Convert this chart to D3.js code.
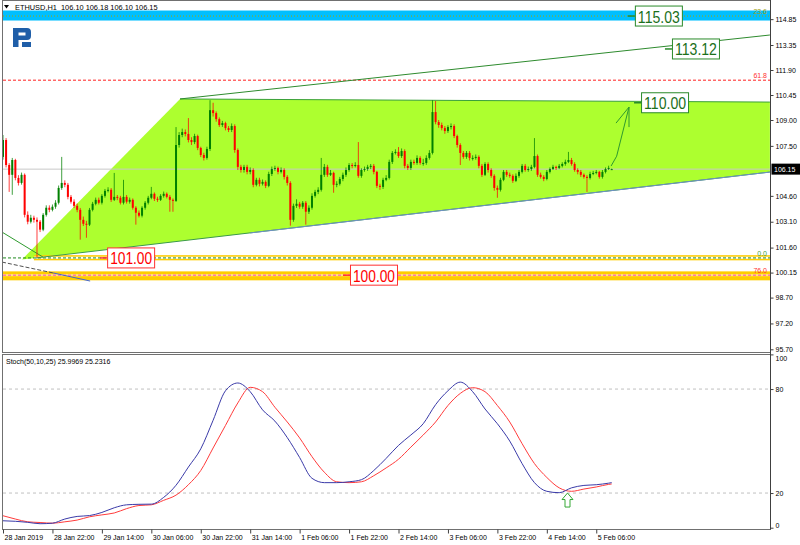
<!DOCTYPE html>
<html><head><meta charset="utf-8">
<script src="https://cdn.jsdelivr.net/npm/d3@7"></script>
<style>html,body{margin:0;padding:0;background:#fff;}svg{display:block;font-family:"Liberation Sans",Arial,sans-serif;}</style>
</head><body><svg id="c" width="800" height="545"></svg>
<script>
// ---------------- DATA ----------------
const symbolTitle = "ETHUSD,H1";
const lastOHLC = [106.10, 106.18, 106.10, 106.15];
const opens = [106.86,107.84,106.39,105.82,106.68,105.64,105.35,105.82,103.50,103.10,
103.33,103.21,103.10,102.64,103.50,103.91,103.79,103.97,104.20,105.06,
105.35,105.24,104.54,104.26,104.02,103.79,103.21,102.98,102.93,103.79,
104.14,104.37,104.20,104.60,104.89,104.95,104.37,104.54,104.49,104.20,
104.54,104.26,104.37,103.91,103.62,103.45,103.91,104.20,104.49,104.72,
104.43,104.37,104.60,104.72,104.54,104.37,104.31,107.55,108.13,108.30,
108.19,107.84,107.72,108.07,107.38,106.97,106.80,107.32,109.57,109.40,
109.05,108.71,108.82,108.53,108.42,108.65,107.26,106.28,106.10,106.28,
105.99,106.10,105.24,105.53,105.30,105.41,105.18,105.87,106.16,106.22,
105.99,106.10,105.70,105.35,103.21,104.02,104.14,103.97,104.20,103.68,
103.91,104.60,104.83,104.95,105.82,106.28,105.82,105.93,105.24,105.30,
105.58,105.82,106.10,106.39,106.34,106.39,105.76,106.10,106.16,106.28,
106.34,105.99,105.18,105.12,105.53,105.64,106.57,107.09,107.15,106.91,
107.20,106.34,106.22,106.57,106.51,106.80,106.51,106.51,106.80,107.09,
109.46,108.88,108.71,108.53,108.36,108.59,108.65,108.07,107.55,107.09,
106.86,107.09,106.80,106.80,106.86,106.34,105.82,106.45,106.10,105.76,
105.06,104.95,105.53,105.99,105.82,105.76,105.47,105.76,105.99,106.34,
106.10,106.16,106.28,106.91,105.82,105.70,105.58,105.99,106.16,106.28,
106.22,106.34,106.45,106.57,106.68,106.45,106.10,105.99,105.82,105.70,
105.64,105.87,105.93,105.99,105.70,105.99,106.16,106.10];
const highs = [108.13,107.95,106.50,106.80,106.75,105.80,105.95,105.90,103.70,103.50,
103.45,103.35,103.20,103.60,104.05,104.05,104.10,104.35,105.20,106.86,
105.50,105.35,104.65,104.40,104.15,103.90,103.40,103.15,103.90,104.25,
104.50,104.50,104.70,105.00,105.10,105.05,105.93,104.65,104.60,105.53,
104.65,104.50,104.45,104.00,103.75,104.00,104.30,104.60,105.12,104.80,
104.55,104.70,104.85,104.80,104.65,104.45,108.59,108.30,108.50,108.45,
109.11,108.00,108.20,108.15,107.45,107.10,107.45,110.15,110.00,109.50,
109.15,108.95,108.90,108.65,108.80,108.75,107.35,106.40,106.40,106.40,
106.25,106.20,105.65,105.65,105.55,105.50,106.00,106.30,106.35,106.30,
106.25,106.20,105.80,105.45,104.15,104.40,104.25,104.30,104.30,104.05,
104.75,104.95,105.10,106.80,106.45,106.40,106.10,106.00,105.45,105.70,
105.95,106.25,106.50,106.50,106.55,107.72,106.20,106.30,106.40,106.45,
106.45,106.05,105.30,105.65,105.80,106.70,107.20,107.30,107.43,107.35,
107.30,106.45,106.70,106.70,106.95,106.90,106.75,106.95,107.25,110.15,
110.10,109.00,108.85,108.65,108.70,108.80,108.75,108.15,107.65,107.20,
107.20,107.20,106.95,107.00,106.95,106.45,106.55,106.55,106.20,105.85,
105.20,105.65,106.10,106.10,105.95,105.85,105.90,106.10,106.45,106.45,
106.30,106.40,107.95,107.00,105.95,105.80,106.10,106.25,106.40,106.35,
106.45,106.55,106.70,107.15,106.80,106.55,106.20,106.10,105.90,105.80,
106.00,106.05,106.10,106.05,106.10,106.25,106.35,106.18];
const lows = [106.70,106.25,104.83,104.66,105.50,105.20,105.25,103.35,102.95,103.00,
103.05,101.02,102.50,102.55,103.40,103.65,103.70,103.85,104.10,104.95,
105.10,104.40,104.15,103.90,103.65,102.06,102.85,102.17,102.85,103.70,
104.05,104.10,104.10,104.50,104.80,104.25,104.30,104.35,104.10,104.10,
104.15,104.15,103.80,102.93,103.35,103.35,103.80,104.10,104.40,104.30,
104.25,104.30,104.50,104.45,103.68,103.68,104.25,107.40,108.00,108.05,
107.70,107.55,107.60,107.25,106.85,106.65,106.70,107.20,109.20,108.90,
108.60,108.60,108.40,108.30,108.30,107.10,106.10,105.95,105.95,105.85,
105.85,105.10,105.15,105.15,105.20,105.05,105.10,105.75,106.05,105.85,
105.90,105.55,105.20,102.87,103.10,103.90,103.85,103.85,102.93,103.55,
103.80,104.50,104.70,104.85,105.70,105.70,105.75,104.78,105.10,105.20,
105.45,105.70,106.00,106.20,106.25,105.65,105.65,106.00,106.05,106.15,
105.85,105.05,104.95,105.00,105.45,105.55,106.45,107.00,106.80,106.80,
106.20,106.10,106.10,106.40,106.40,106.40,106.35,106.40,106.70,107.00,
108.75,108.55,108.40,108.20,108.25,108.45,107.95,107.40,106.39,106.75,
106.75,106.65,106.65,106.70,106.20,105.70,105.75,105.95,105.65,104.90,
104.49,104.85,105.45,105.70,105.65,105.35,105.40,105.65,105.90,106.00,
106.00,106.05,106.20,105.70,105.60,105.45,105.50,105.90,106.10,106.10,
106.15,106.25,106.35,106.50,106.35,106.00,105.85,105.70,105.60,104.83,
105.55,105.80,105.85,105.60,105.60,105.90,106.10,106.10];
const closes = [107.84,106.39,105.82,106.68,105.64,105.35,105.82,103.50,103.10,103.33,
103.21,103.10,102.64,103.50,103.91,103.79,103.97,104.20,105.06,105.35,
105.24,104.54,104.26,104.02,103.79,103.21,102.98,102.93,103.79,104.14,
104.37,104.20,104.60,104.89,104.95,104.37,104.54,104.49,104.20,104.54,
104.26,104.37,103.91,103.62,103.45,103.91,104.20,104.49,104.72,104.43,
104.37,104.60,104.72,104.54,104.37,104.31,107.55,108.13,108.30,108.19,
107.84,107.72,108.07,107.38,106.97,106.80,107.32,109.57,109.40,109.05,
108.71,108.82,108.53,108.42,108.65,107.26,106.28,106.10,106.28,105.99,
106.10,105.24,105.53,105.30,105.41,105.18,105.87,106.16,106.22,105.99,
106.10,105.70,105.35,103.21,104.02,104.14,103.97,104.20,103.68,103.91,
104.60,104.83,104.95,105.82,106.28,105.82,105.93,105.24,105.30,105.58,
105.82,106.10,106.39,106.34,106.39,105.76,106.10,106.16,106.28,106.34,
105.99,105.18,105.12,105.53,105.64,106.57,107.09,107.15,106.91,107.20,
106.34,106.22,106.57,106.51,106.80,106.51,106.51,106.80,107.09,109.46,
108.88,108.71,108.53,108.36,108.59,108.65,108.07,107.55,107.09,106.86,
107.09,106.80,106.80,106.86,106.34,105.82,106.45,106.10,105.76,105.06,
104.95,105.53,105.99,105.82,105.76,105.47,105.76,105.99,106.34,106.10,
106.16,106.28,106.91,105.82,105.70,105.58,105.99,106.16,106.28,106.22,
106.34,106.45,106.57,106.68,106.45,106.10,105.99,105.82,105.70,105.64,
105.87,105.93,105.99,105.70,105.99,106.16,106.22,106.15];

const timeLabels = ["28 Jan 2019","28 Jan 22:00","29 Jan 14:00","30 Jan 06:00","30 Jan 22:00","31 Jan 14:00","1 Feb 06:00","1 Feb 22:00","2 Feb 14:00","3 Feb 06:00","3 Feb 22:00","4 Feb 14:00","5 Feb 06:00"];
const timeLabelBars = [0,16,32,48,64,80,96,112,128,144,160,176,192];
const priceTicks = [114.85,113.35,111.90,110.45,109.00,107.50,104.60,103.10,101.60,100.15,98.70,97.20,95.70];

const stochTitle = "Stoch(50,10,25) 25.9969 25.2316";
const stochBars = [0,4,8,12,16,20,24,28,32,36,40,44,48,52,56,60,64,68,72,76,80,84,88,92,96,100,104,108,112,116,120,124,128,132,136,140,144,148,152,156,160,164,168,172,176,180,184,188,192,196,197];
const stochMain = [4.0,3.7,3.1,2.3,2.6,5.0,6.5,7.0,8.8,11.5,13.2,13.5,13.6,17.5,24.5,35.0,45.5,62.0,79.0,83.5,78.5,68.0,61.5,52.0,40.5,28.5,26.0,26.0,26.5,27.7,33.0,40.0,47.5,53.5,60.0,71.0,79.0,84.0,78.5,68.5,60.0,50.0,37.0,26.0,21.0,20.2,23.0,24.4,24.8,25.7,26.0];
const stochSignal = [6.9,5.0,3.4,3.0,2.6,3.4,4.4,6.3,7.4,8.5,11.0,12.8,13.2,15.8,18.8,24.8,33.0,46.0,59.0,72.0,81.0,78.5,69.5,61.0,51.8,41.0,32.0,26.5,26.0,26.5,30.0,34.5,39.5,46.5,53.5,61.0,70.5,77.5,80.8,78.5,70.5,61.0,48.5,37.0,29.0,23.0,21.0,22.3,23.5,25.0,25.23];
const stochTicks = [100,80,20,0];
const stochLevels = [80,20];

const fibPrices = [115.03,111.31,101.00,100.00];
const fibNames = ["23.6","61.8","0.0","76.0"];
const targetPrices = [115.03,113.12,110.00];
const supportPrices = [101.00,100.00];
const currentPrice = 106.15;

// ---------------- LAYOUT ----------------
const svg = d3.select("#c");
const PL = 2.5, PR = 770.5, MT = 0.5, MB = 352.5, ST = 354.5, SB = 529.5;
const x = d3.scaleLinear().domain([0,197]).range([3,611.7]);
const y = d3.scaleLinear().domain([95.70,109.00]).range([349.3,120]);
const ys = d3.scaleLinear().domain([0,100]).range([527.7,354.4]);
const fmt = d3.format(".2f");

const defs = svg.append("defs");
defs.append("clipPath").attr("id","mclip").append("rect").attr("x",3).attr("y",1).attr("width",767).attr("height",351);
defs.append("clipPath").attr("id","sclip").append("rect").attr("x",3).attr("y",355).attr("width",767).attr("height",174);

const main = svg.append("g").attr("clip-path","url(#mclip)");

// blue band around 115.03
main.append("rect").attr("x",3).attr("width",767)
  .attr("y",y(115.35)).attr("height",y(114.77)-y(115.35)).attr("fill","#00bfff");

// channel fill
const chan = [[6.15,100.91],[57.3,110.22],[248.2,110.04],[248.2,105.98]];
main.append("path").attr("d", d3.line().x(d=>x(d[0])).y(d=>y(d[1]))(chan)+"Z").attr("fill","#adff2f");

// gold bands
main.append("rect").attr("x",x(10)).attr("width",800).attr("y",y(101.16)).attr("height",y(100.86)-y(101.16)).attr("fill","#ffcc00");
main.append("rect").attr("x",x(10)).attr("width",800).attr("y",y(101.07)).attr("height",y(100.95)-y(101.07)).attr("fill","#fff");
main.append("rect").attr("x",3).attr("width",800).attr("y",y(100.22)).attr("height",y(99.70)-y(100.22)).attr("fill","#ffcc00");
main.append("rect").attr("x",3).attr("width",800).attr("y",y(100.06)).attr("height",y(99.94)-y(100.06)).attr("fill","#ffe680");

// current price line
main.append("line").attr("x1",3).attr("x2",770).attr("y1",y(currentPrice)).attr("y2",y(currentPrice)).attr("stroke","#c8c8c8");

// fib lines
const fibColors = ["#a8a800","#ff2020","#1e8a1e","#ff40c0"];
const fibDash = ["1,2","3,2","3,2","3,2"];
fibPrices.forEach((p,i)=>{
  main.append("line").attr("x1",3).attr("x2",770).attr("y1",y(p)).attr("y2",y(p))
    .attr("stroke",fibColors[i]).attr("stroke-dasharray",fibDash[i]).attr("stroke-width",1);
});

// thin old lines
const seg = (a,b,col,dash,w)=>main.append("line").attr("x1",x(a[0])).attr("y1",y(a[1])).attr("x2",x(b[0])).attr("y2",y(b[1]))
  .attr("stroke",col).attr("stroke-width",w||1).attr("stroke-dasharray",dash||null);
seg([-0.32,102.50],[12.94,101.05],"#2e9a2e");
seg([-0.32,100.76],[16.2,100.13],"#505050","4,2");
seg([16.2,100.13],[28.2,99.66],"#4466cc");
// channel lines
seg([57.3,110.22],[248.2,110.04],"#3aa03a");
seg([10.7,101.0],[248.2,105.98],"#3a9a4a");
seg([80,102.45],[248.2,105.98],"#7090c8");
seg([57.3,110.22],[248.2,113.93],"#2e8b2e");

// candles
const bars = closes.map((c,i)=>({i,o:opens[i],h:highs[i],l:lows[i],c}));
const cg = main.append("g");
cg.selectAll("line.w").data(bars).join("line").attr("class","w")
  .attr("x1",d=>x(d.i)).attr("x2",d=>x(d.i)).attr("y1",d=>y(d.h)).attr("y2",d=>y(d.l))
  .attr("stroke",d=>d.c>=d.o?"#008000":"#ff0000").attr("stroke-opacity",0.75);
cg.selectAll("rect.b").data(bars).join("rect").attr("class","b")
  .attr("x",d=>x(d.i)-1).attr("width",2)
  .attr("y",d=>y(Math.max(d.o,d.c))).attr("height",d=>Math.max(1,Math.abs(y(d.o)-y(d.c))))
  .attr("fill",d=>d.c>=d.o?"#008000":"#ff0000");

// forecast arrow
const ar = main.append("g").attr("stroke","#2e9a2e").attr("fill","none").attr("stroke-width",1);
ar.append("path").attr("d",d3.line().x(d=>x(d[0])).y(d=>y(d[1]))([[196.8,106.33],[198.6,106.9],[202.6,109.75]]));
ar.append("path").attr("d",d3.line().x(d=>x(d[0])).y(d=>y(d[1]))([[198.4,108.82],[202.6,109.75],[202.6,108.59]]));

// callout labels
function callout(barIdx, price, col, txtCol){
  const cx = x(barIdx), cy = y(price);
  const g = svg.append("g");
  g.append("line").attr("x1",cx-7).attr("x2",cx).attr("y1",cy).attr("y2",cy).attr("stroke",col).attr("stroke-width",1.5);
  g.append("rect").attr("x",cx+0.5).attr("y",cy-10).attr("width",47).attr("height",20).attr("fill","#fff").attr("stroke",col);
  g.append("text").attr("x",cx+3).attr("y",cy+6.5).attr("font-size",17).attr("fill",txtCol)
    .attr("textLength",42).attr("lengthAdjust","spacingAndGlyphs").text(fmt(price));
}
const targetBars = [204.5,216.5,206.5];
targetPrices.forEach((p,i)=>callout(targetBars[i],p,"#2a8a2a","#1b701b"));
const supportBars = [33.7,112.3];
supportPrices.forEach((p,i)=>callout(supportBars[i],p,"#ff3030","#ff0000"));

// fib names
const fibTextCol = ["#a0a010","#ff3030","#40a040","#ff3030"];
fibPrices.forEach((p,i)=>{
  svg.append("text").attr("x",767).attr("y",y(p)-2).attr("text-anchor","end").attr("font-size",7)
    .attr("fill",fibTextCol[i]).text(fibNames[i]);
});

// logo
svg.append("path").attr("fill","#1f5ea8").attr("fill-rule","evenodd")
  .attr("d","M13,28 H27 Q31,28 31,32 V36 Q31,40 27,40 H18.5 V47 H13 Z M18.5,32.5 H25.5 V35.5 H18.5 Z M22,42 H31 V47 H22 Z");

// header
svg.append("path").attr("d","M4,5 L9,5 L6.5,8.5 Z").attr("fill","#000");
svg.append("text").attr("x",15).attr("y",10).attr("font-size",7.4).attr("fill","#000")
  .attr("xml:space","preserve").text(symbolTitle+"  "+lastOHLC.map(fmt).join(" "));

// frames
svg.append("rect").attr("x",PL).attr("y",MT).attr("width",PR-PL).attr("height",MB-MT).attr("fill","none").attr("stroke","#707070");
svg.append("rect").attr("x",PL).attr("y",ST).attr("width",PR-PL).attr("height",SB-ST).attr("fill","none").attr("stroke","#707070");
svg.append("line").attr("x1",PR).attr("x2",PR).attr("y1",0).attr("y2",SB).attr("stroke","#404040");

// price axis
const pa = svg.append("g").attr("transform",`translate(${PR},0)`)
  .call(d3.axisRight(y).tickValues(priceTicks).tickSize(3).tickPadding(2).tickFormat(fmt));
pa.select(".domain").remove();
pa.selectAll("text").attr("font-size",7).attr("font-family","Liberation Sans, Arial, sans-serif").attr("fill","#000");
pa.selectAll("line").attr("stroke","#404040");

// current price tag
svg.append("rect").attr("x",PR+1).attr("y",y(currentPrice)-5.5).attr("width",29).attr("height",11).attr("fill","#000");
svg.append("text").attr("x",PR+3.5).attr("y",y(currentPrice)+2.5).attr("font-size",7).attr("fill","#fff").text(fmt(currentPrice));

// ---------------- STOCH ----------------
const sg = svg.append("g").attr("clip-path","url(#sclip)");
stochLevels.forEach(v=>{
  sg.append("line").attr("x1",3).attr("x2",770).attr("y1",ys(v)).attr("y2",ys(v))
    .attr("stroke","#c0c0c0").attr("stroke-dasharray","3,3");
});
const sLine = d3.line().x((d,i)=>x(stochBars[i])).y(d=>ys(d)).curve(d3.curveMonotoneX);
sg.append("path").attr("d",sLine(stochSignal)).attr("fill","none").attr("stroke","#ff3b3b").attr("stroke-width",1);
sg.append("path").attr("d",sLine(stochMain)).attr("fill","none").attr("stroke","#3a3aa8").attr("stroke-width",1);

// buy arrow in stoch
const ax = x(182.7), ay = ys(20);
sg.append("path").attr("d",`M${ax},${ay} L${ax+5.5},${ay+6.5} L${ax+2.5},${ay+6.5} L${ax+2.5},${ay+14} L${ax-2.5},${ay+14} L${ax-2.5},${ay+6.5} L${ax-5.5},${ay+6.5} Z`)
  .attr("fill","#fff").attr("stroke","#34a834").attr("stroke-width",1);

svg.append("text").attr("x",6).attr("y",364).attr("font-size",7).attr("fill","#000").text(stochTitle);

const sa = svg.append("g").attr("transform",`translate(${PR},0)`)
  .call(d3.axisRight(ys).tickValues(stochTicks).tickSize(3).tickPadding(2));
sa.select(".domain").remove();
sa.selectAll("text").attr("font-size",7).attr("font-family","Liberation Sans, Arial, sans-serif").attr("fill","#000")
  .attr("dy",d=>d===100?"0.9em":(d===0?"-0.1em":"0.32em"));
sa.selectAll("line").attr("stroke","#404040");

// time axis
const ta = svg.append("g").attr("transform",`translate(0,${SB})`)
  .call(d3.axisBottom(x).tickValues(timeLabelBars).tickSize(4).tickPadding(2).tickFormat((d,i)=>timeLabels[i]));
ta.select(".domain").remove();
ta.selectAll("text").attr("font-size",7).attr("font-family","Liberation Sans, Arial, sans-serif").attr("fill","#000")
  .attr("text-anchor","start").attr("dx",1);
ta.selectAll("line").attr("stroke","#404040");
</script></body></html>
